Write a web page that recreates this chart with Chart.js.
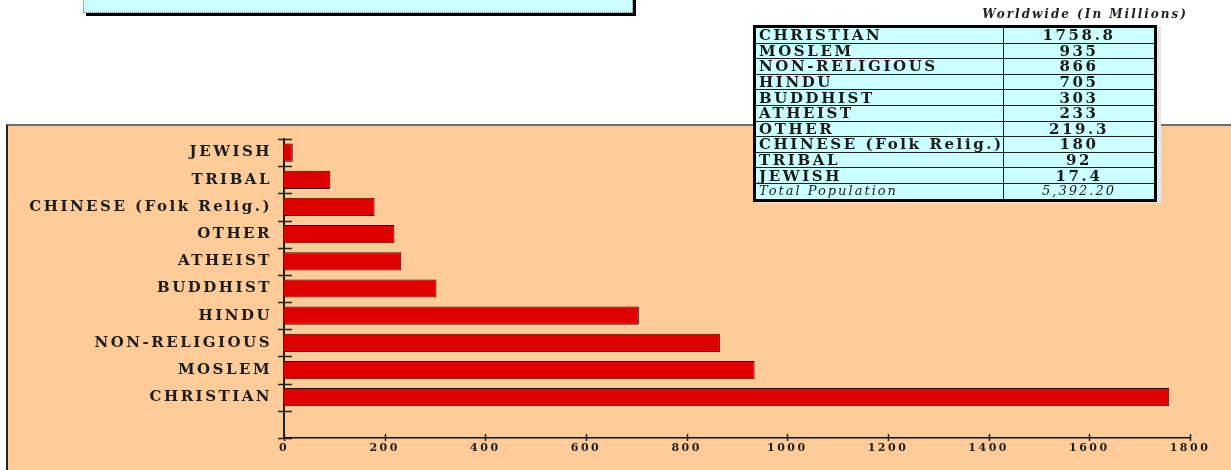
<!DOCTYPE html>
<html>
<head>
<meta charset="utf-8">
<script src="https://cdn.jsdelivr.net/npm/chart.js@4"></script>
<style>
    body { margin: 0; width: 1231px; height: 470px; overflow: hidden; background: #fff; position: relative; }
    #topBox { position: absolute; left: 83px; top: -20px; width: 548px; height: 31px; background: #ccffff;
              border: 1px dotted #777; box-shadow: 3px 3px 0 #000; }
    #panel { position: absolute; left: 6px; top: 124px; width: 1300px; height: 400px; background: #ffcc99;
             border-top: 2px solid #6e6e6e; border-left: 2px solid #222; }
    #chartBox { position: absolute; left: 0; top: 0; width: 1231px; height: 470px; z-index: 1; }
    #tableTitle { position: absolute; right: 43px; top: 7px; z-index: 2; font: italic bold 12px 'DejaVu Serif';
                  letter-spacing: 2px; color: #222; }
    #relTable { position: absolute; left: 753px; top: 25px; width: 404px; z-index: 2; border-collapse: collapse;
                table-layout: fixed; background: #ccffff; border: 3px solid #000; box-shadow: 4px 1px 0 #e6e6e6;
                font: bold 15px 'DejaVu Serif'; letter-spacing: 2.6px; color: #1a1a1a; }
    #relTable td { border: 1px solid #222; padding: 0 0 0 3px; height: 14.6px; line-height: 14px;
                   white-space: nowrap; overflow: hidden; }
    #relTable td:first-child { width: 244px; }
    #relTable td.num { text-align: center; padding: 0; }
    #relTable tr.total td { font-style: italic; font-weight: normal; font-size: 13px; letter-spacing: 2px; }
</style>
</head>
<body>
<div id="topBox"></div>
<div id="panel"></div>
<div id="tableTitle">Worldwide (In Millions)</div>
<table id="relTable"></table>
<div id="chartBox"><canvas id="barChart" width="1231" height="470"></canvas></div>
<script>
// datos (millones de personas)
const religions = ['CHRISTIAN', 'MOSLEM', 'NON-RELIGIOUS', 'HINDU', 'BUDDHIST', 'ATHEIST', 'OTHER',
                   'CHINESE (Folk Relig.)', 'TRIBAL', 'JEWISH'];
const millions = [1758.8, 935, 866, 705, 303, 233, 219.3, 180, 92, 17.4];
const millionsText = ['1758.8', '935', '866', '705', '303', '233', '219.3', '180', '92', '17.4'];
const totalLabel = 'Total Population';
const totalText = '5,392.20';
const xMax = 1800;
const xStep = 200;

// tabla de la derecha
const relTable = document.getElementById('relTable');
religions.forEach((name, i) => {
    const row = relTable.insertRow();
    row.insertCell().textContent = name;
    const c = row.insertCell();
    c.textContent = millionsText[i];
    c.className = 'num';
});
const totalRow = relTable.insertRow();
totalRow.className = 'total';
totalRow.insertCell().textContent = totalLabel;
const totalCell = totalRow.insertCell();
totalCell.textContent = totalText;
totalCell.className = 'num';

// el gráfico: de arriba a abajo JEWISH ... CHRISTIAN y un hueco vacío al final
const chartLabels = [...religions].reverse().concat(['']);
const chartValues = [...millions].reverse().concat([null]);

const labelFont = { family: 'DejaVu Serif', size: 15, weight: 'bold' };

// marcas cruzando los ejes, como en el original
const crossTicks = {
    id: 'crossTicks',
    beforeDraw(chart) {
        chart.ctx.letterSpacing = '2.5px';
    },
    afterDraw(chart) {
        const ctx = chart.ctx;
        const y = chart.scales.y;
        const x = chart.scales.x;
        ctx.save();
        ctx.strokeStyle = '#222';
        ctx.lineWidth = 1.5;
        const step = y.getPixelForTick(1) - y.getPixelForTick(0);
        const first = y.getPixelForTick(0) - step / 2;
        for (let i = 0; i <= chartLabels.length; i++) {
            const py = Math.round(first + i * step) + 0.5;
            ctx.beginPath();
            ctx.moveTo(y.right - 6, py);
            ctx.lineTo(y.right + 8, py);
            ctx.stroke();
        }
        x.ticks.forEach(t => {
            const px = Math.round(x.getPixelForValue(t.value)) + 0.5;
            ctx.beginPath();
            ctx.moveTo(px, x.top - 4);
            ctx.lineTo(px, x.top + 3);
            ctx.stroke();
        });
        ctx.restore();
    }
};

new Chart(document.getElementById('barChart').getContext('2d'), {
    type: 'bar',
    data: {
        labels: chartLabels,
        datasets: [{
            data: chartValues,
            backgroundColor: '#dd0000',
            borderColor: '#3a0000',
            borderWidth: 1,
            barPercentage: 0.67,
            categoryPercentage: 1
        }]
    },
    options: {
        indexAxis: 'y',
        responsive: false,
        animation: false,
        layout: { padding: { left: 0, top: 139, right: 41, bottom: 0 } },
        plugins: { legend: { display: false }, tooltip: { enabled: false } },
        scales: {
            y: {
                afterFit: s => { s.width = 284; },
                grid: { display: false, drawTicks: false },
                border: { color: '#222', width: 2 },
                ticks: { font: labelFont, color: '#1c1c1c', padding: 12, autoSkip: false }
            },
            x: {
                min: 0,
                max: xMax,
                afterFit: s => { s.height = 32; },
                grid: { display: false, drawTicks: false },
                border: { color: '#111', width: 1.5 },
                ticks: { stepSize: xStep, callback: v => String(v),
                         font: { family: 'DejaVu Serif', size: 11, weight: 'bold' },
                         color: '#1c1c1c', padding: 4 }
            }
        }
    },
    plugins: [crossTicks]
});
</script>
</body>
</html>
